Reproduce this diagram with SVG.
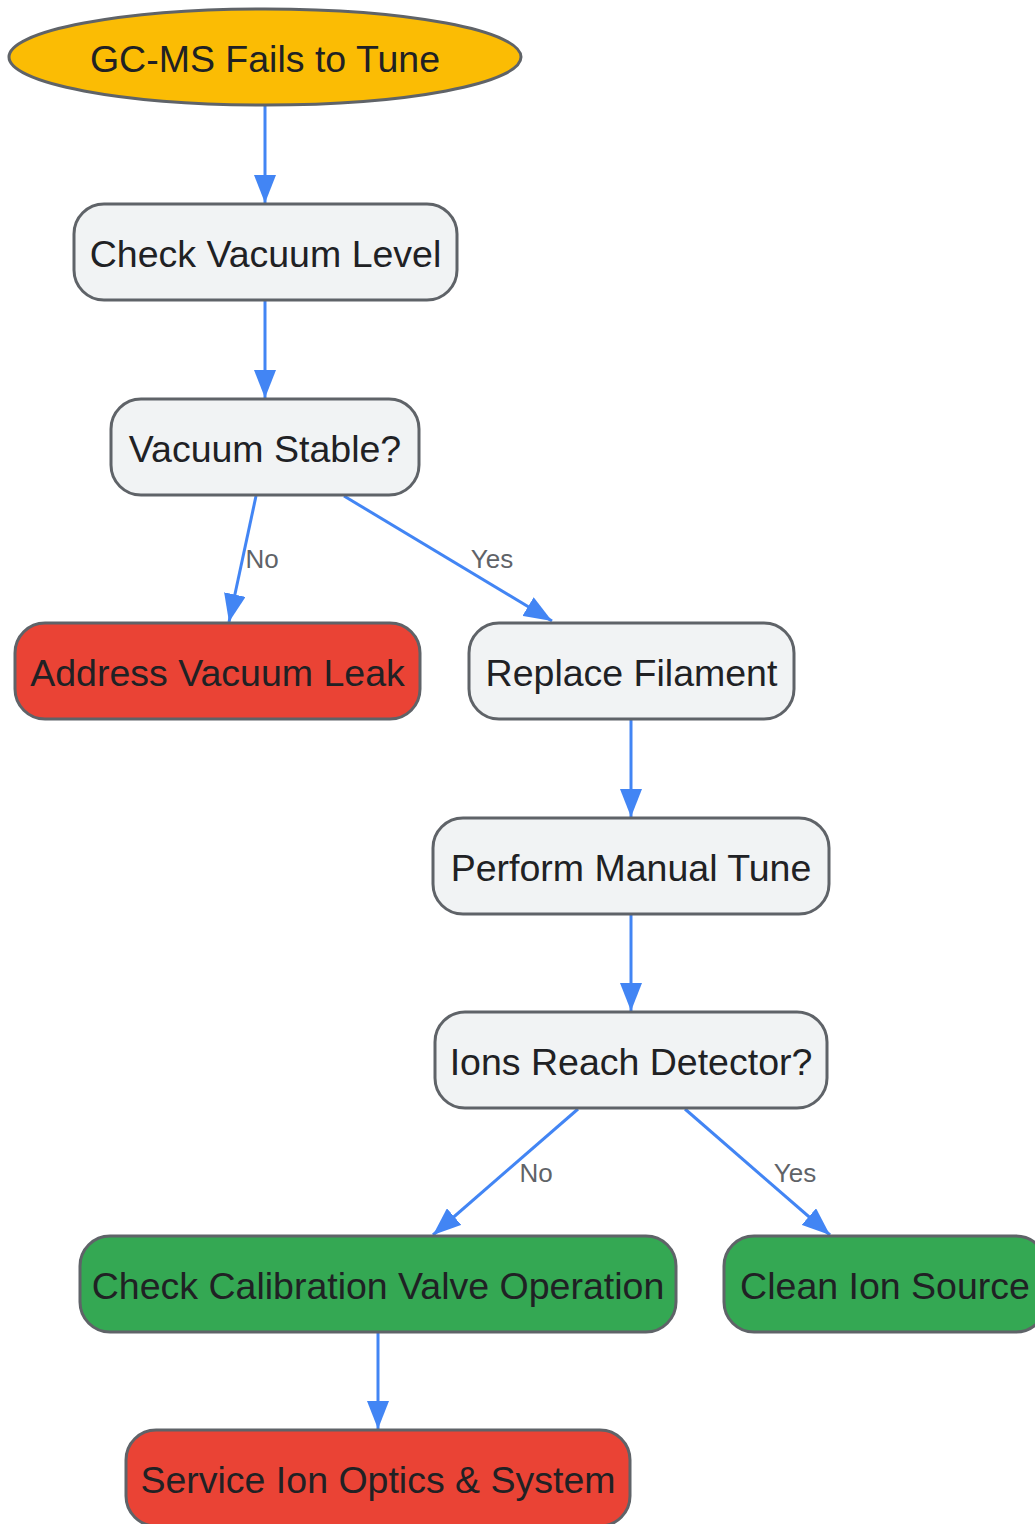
<svg xmlns="http://www.w3.org/2000/svg" width="1035" height="1524" viewBox="0 0 1035 1524">
<style>
.n{stroke:#5f6368;stroke-width:3}
.g{fill:#f1f3f4}
.r{fill:#ea4335}
.gr{fill:#34a853}
.y{fill:#fbbc04}
.t{font-family:"Liberation Sans",Arial,sans-serif;font-size:37.5px;fill:#202124;text-anchor:middle}
.e{stroke:#4285f4;stroke-width:3;fill:none;marker-end:url(#a)}
.l{font-family:"Liberation Sans",Arial,sans-serif;font-size:26px;fill:#5f6368;text-anchor:middle}
</style>
<defs>
<marker id="a" viewBox="0 0 28 22" refX="28" refY="11" markerWidth="28" markerHeight="22" markerUnits="userSpaceOnUse" orient="auto">
<path d="M0,0 L28,11 L0,22 z" fill="#4285f4"/>
</marker>
</defs>
<rect width="1035" height="1524" fill="#ffffff"/>
<g id="edges">
<path class="e" d="M265,106 L265,203"/>
<path class="e" d="M265,301 L265,398"/>
<path class="e" d="M256,496 L229,622"/>
<path class="e" d="M344,496 L552,621"/>
<path class="e" d="M631,720 L631,817"/>
<path class="e" d="M631,915 L631,1011"/>
<path class="e" d="M578,1109 L433,1235"/>
<path class="e" d="M685,1109 L830,1235"/>
<path class="e" d="M378,1333 L378,1429"/>
<text class="l" x="262" y="568">No</text>
<text class="l" x="492" y="568">Yes</text>
<text class="l" x="536" y="1182">No</text>
<text class="l" x="795" y="1182">Yes</text>
</g>
<g id="start">
<ellipse class="n y" cx="265" cy="57" rx="256" ry="48"/>
<text class="t" x="265" y="72">GC-MS Fails to Tune</text>
</g>
<g id="checkVacuum">
<rect class="n g" x="74" y="204" width="383" height="96" rx="30"/>
<text class="t" x="265.5" y="267">Check Vacuum Level</text>
</g>
<g id="vacuumStable">
<rect class="n g" x="111" y="399" width="308" height="96" rx="30"/>
<text class="t" x="265" y="462">Vacuum Stable?</text>
</g>
<g id="addressLeak">
<rect class="n r" x="15" y="623" width="405" height="96" rx="30"/>
<text class="t" x="217.5" y="686">Address Vacuum Leak</text>
</g>
<g id="replaceFilament">
<rect class="n g" x="469" y="623" width="325" height="96" rx="30"/>
<text class="t" x="631.5" y="686">Replace Filament</text>
</g>
<g id="manualTune">
<rect class="n g" x="433" y="818" width="396" height="96" rx="30"/>
<text class="t" x="631" y="881">Perform Manual Tune</text>
</g>
<g id="ionsReach">
<rect class="n g" x="435" y="1012" width="392" height="96" rx="30"/>
<text class="t" x="631" y="1075">Ions Reach Detector?</text>
</g>
<g id="calibValve">
<rect class="n gr" x="80" y="1236" width="596" height="96" rx="30"/>
<text class="t" x="378" y="1299">Check Calibration Valve Operation</text>
</g>
<g id="cleanSource">
<rect class="n gr" x="724" y="1236" width="322" height="96" rx="30"/>
<text class="t" x="885" y="1299">Clean Ion Source</text>
</g>
<g id="serviceOptics">
<rect class="n r" x="126" y="1430" width="504" height="96" rx="30"/>
<text class="t" x="378" y="1493">Service Ion Optics &amp; System</text>
</g>
</svg>
